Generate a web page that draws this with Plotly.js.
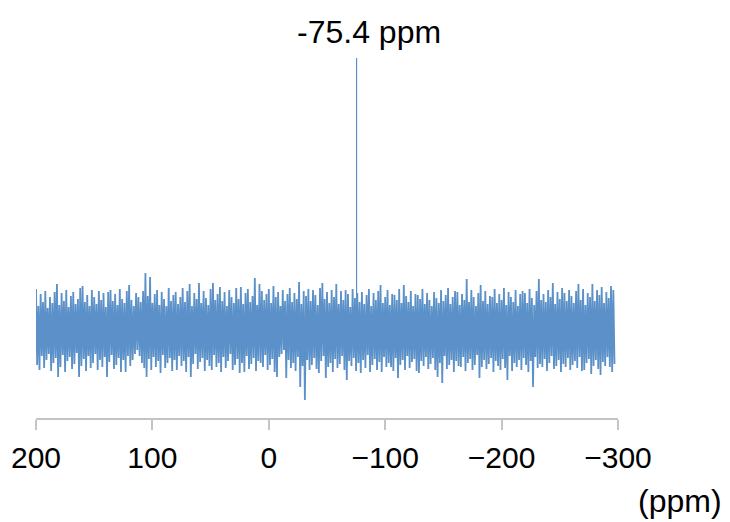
<!DOCTYPE html>
<html>
<head>
<meta charset="utf-8">
<script src="https://cdn.plot.ly/plotly-3.0.1.min.js"></script>
<style>html,body{margin:0;padding:0;background:#fff;}#chart{width:730px;height:522px;}</style>
</head>
<body>
<div id="chart"></div>
<script>
// Sampling of the chemical-shift axis (ppm)
var upperStart = 200;   // upper excursions at 200, 198, ..., -296
var lowerStart = 199;   // lower excursions at 199, 197, ..., -297
var ppmStep = -2;
// Upward noise excursions (arbitrary units)
var upper = [
  41,24,36,28,39,22,33,27,38,46,
  25,37,29,40,23,34,38,26,31,42,
  44,28,35,24,40,33,26,39,30,37,
  23,38,40,29,36,25,41,31,27,39,
  45,30,24,37,33,28,39,57,34,53,
  27,36,40,25,38,31,24,42,29,35,
  38,26,33,42,28,39,46,24,37,31,
  47,27,39,32,25,41,47,30,36,43,
  29,38,24,40,33,27,42,31,43,26,
  37,41,28,34,52,25,46,39,30,36,
  41,27,44,33,38,24,40,29,36,42,
  28,37,31,48,26,39,34,41,29,40,
  35,25,42,47,31,38,27,40,33,46,
  26,39,30,40,36,23,41,32,37,28,
  38,26,35,41,24,37,30,39,45,27,
  33,40,25,36,35,30,41,27,45,34,
  28,39,24,36,35,31,41,26,37,30,
  24,38,32,27,40,29,35,42,26,33,
  39,38,25,36,30,51,28,40,33,24,
  37,45,29,39,26,34,33,41,27,36,
  30,42,25,38,33,28,40,24,36,39,
  37,27,41,32,25,39,51,30,36,28,
  40,33,47,26,38,31,42,37,29,40,
  34,27,39,46,30,41,25,37,33,46,
  29,40,35,43,27,38,32,44,40
];
// Downward noise excursions (arbitrary units)
var lower = [
  -35,-40,-26,-38,-30,-24,-41,-33,-28,-47,
  -37,-25,-42,-31,-27,-39,-34,-23,-47,-36,
  -29,-41,-26,-38,-33,-24,-40,-30,-37,-27,
  -47,-32,-25,-39,-35,-28,-42,-30,-42,-26,
  -36,-30,-24,-20,-26,-33,-38,-47,-29,-40,
  -27,-37,-31,-43,-25,-38,-33,-28,-41,-30,
  -40,-26,-36,-31,-42,-27,-47,-34,-24,-39,
  -32,-28,-41,-30,-36,-40,-25,-37,-33,-42,
  -27,-38,-31,-24,-40,-35,-29,-43,-33,-42,
  -26,-39,-34,-28,-41,-31,-33,-37,-25,-40,
  -35,-29,-42,-47,-27,-24,-20,-48,-30,-38,
  -33,-41,-27,-57,-36,-70,-30,-40,-35,-28,
  -39,-43,-31,-26,-48,-37,-33,-42,-29,-38,
  -34,-26,-40,-50,-31,-36,-28,-41,-33,-43,
  -30,-38,-25,-42,-35,-29,-40,-32,-42,-27,
  -37,-33,-37,-41,-28,-48,-35,-30,-40,-26,
  -38,-32,-29,-41,-43,-31,-36,-27,-39,-34,
  -28,-40,-47,-33,-53,-26,-39,-35,-30,-42,
  -31,-36,-37,-27,-41,-33,-29,-40,-35,-25,
  -48,-37,-30,-39,-34,-28,-42,-31,-36,-40,
  -29,-38,-50,-26,-41,-33,-37,-30,-40,-28,
  -35,-42,-31,-57,-27,-38,-34,-37,-29,-41,
  -33,-26,-39,-36,-30,-42,-34,-37,-28,-40,
  -35,-31,-38,-27,-41,-40,-33,-29,-44,-36,
  -30,-39,-45,-32,-36,-27,-37,-42,-34
];
// Peak
var peakPpm = [-75.4];
var peakHeight = [272];
var peakLabel = "-75.4 ppm";
// Axis ticks
var tickValues = [200, 100, 0, -100, -200, -300];
var axisUnit = "(ppm)";

// Interleave the two excursion series into one spectrum trace (ordered by ppm)
var specX = [], specY = [];
for (var i = 0; i < upper.length; i++) {
  specX.push(upperStart + ppmStep * i); specY.push(upper[i]);
  if (i < lower.length) { specX.push(lowerStart + ppmStep * i); specY.push(lower[i]); }
}

var color = '#5b91c8';
var traces = [
  {x: specX, y: specY, type: 'scatter', mode: 'lines',
   line: {color: color, width: 1.8}, hoverinfo: 'skip', showlegend: false},
  {x: [peakPpm[0], peakPpm[0]], y: [0, peakHeight[0]], type: 'scatter', mode: 'lines',
   line: {color: color, width: 1.2}, hoverinfo: 'skip', showlegend: false}
];

var font = '"Liberation Sans", Arial, Helvetica, sans-serif';
var layout = {
  width: 730, height: 522,
  margin: {l: 36, r: 112, t: 50, b: 104},
  paper_bgcolor: '#fff', plot_bgcolor: '#fff',
  showlegend: false,
  font: {family: font, color: '#000'},
  xaxis: {
    range: [200, -300], showgrid: false, zeroline: false,
    showline: true, linecolor: '#c4c4c4', linewidth: 2,
    ticks: 'outside', ticklen: 10, tickwidth: 2, tickcolor: '#c4c4c4',
    tickvals: tickValues, tickfont: {size: 30, family: font, color: '#000'},
    ticklabelstandoff: 2
  },
  yaxis: {range: [-88, 280], visible: false, showgrid: false, zeroline: false},
  annotations: [
    {x: peakPpm[0], xref: 'x', xshift: 12, y: 1.05, yref: 'paper', text: peakLabel,
     showarrow: false, xanchor: 'center', yanchor: 'middle', font: {size: 32, family: font, color: '#000'}},
    {x: 1.1065, xref: 'paper', y: -0.225, yref: 'paper', text: axisUnit,
     showarrow: false, xanchor: 'center', yanchor: 'middle', font: {size: 32, family: font, color: '#000'}}
  ]
};
Plotly.newPlot('chart', traces, layout, {displayModeBar: false, staticPlot: true});
</script>
</body>
</html>
